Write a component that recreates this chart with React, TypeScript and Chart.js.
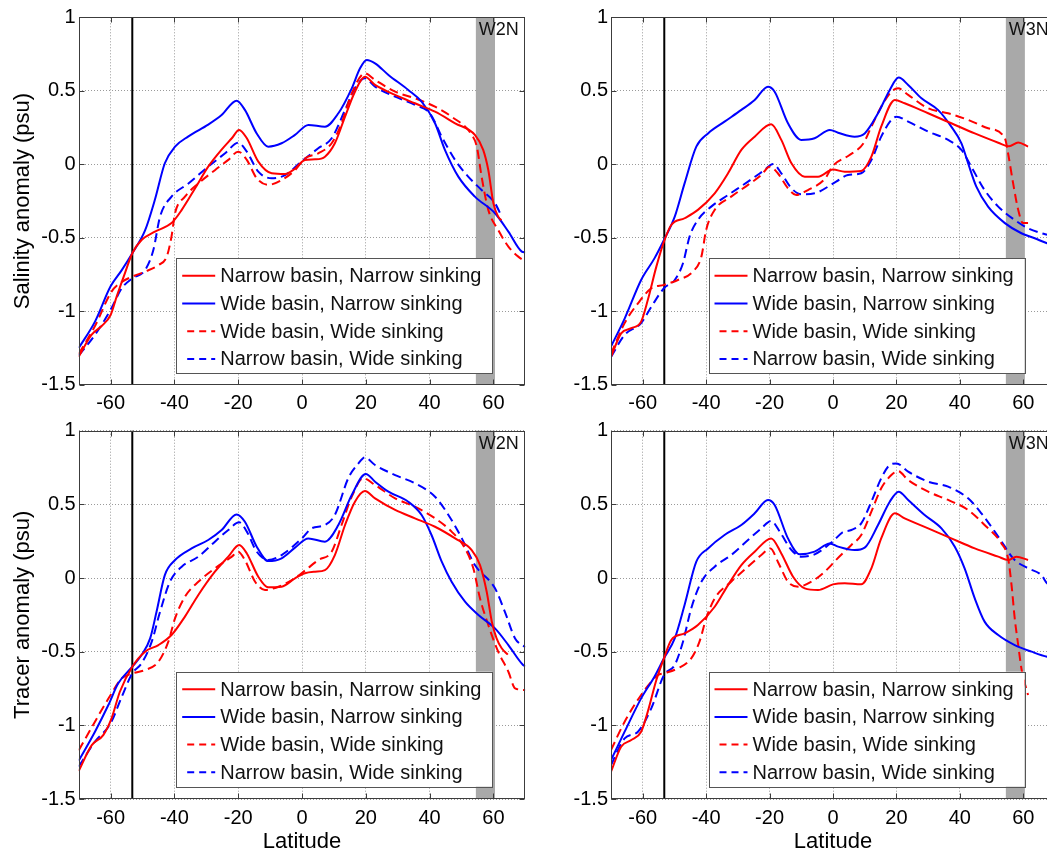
import React, { useEffect, useRef } from "react";
import { Chart, registerables } from "chart.js";

Chart.register(...registerables);

type Pt = [number, number];

// ---- axes ----
const latitudeTicks = [-60, -40, -20, 0, 20, 40, 60];
const anomalyTicks = [-1.5, -1, -0.5, 0, 0.5, 1];
const latitudeRange: Pt = [-70, 70];
const anomalyRange: Pt = [-1.5, 1];

// ---- experiments (legend order) ----
const experimentNames = [
  "Narrow basin, Narrow sinking",
  "Wide basin, Narrow sinking",
  "Wide basin, Wide sinking",
  "Narrow basin, Wide sinking",
];
const experimentColors = ["#ff0000", "#0000ff", "#ff0000", "#0000ff"];
const experimentDashed = [false, false, true, true];

// ---- reference marks ----
const southernBoundaryLat = -53.2;
const sinkingBandW2N: Pt = [54.5, 60.5];
const sinkingBandW3N: Pt = [54.5, 60.5];

// ---- salinity anomaly, W2N forcing ----
const salW2N_nbns: Pt[] = [
  [-70, -1.31], [-66, -1.16], [-62.8, -1.1], [-60, -1.025], [-58.1, -0.9], [-55.5, -0.74],
  [-53.2, -0.605], [-50.3, -0.515], [-46.1, -0.458], [-40.9, -0.4], [-37.7, -0.31], [-33.5, -0.163],
  [-29.4, -0.016], [-25.2, 0.1], [-22, 0.177], [-19.7, 0.234], [-17.3, 0.177], [-13.7, 0.018],
  [-9.5, -0.061], [-5.3, -0.066], [-2.2, -0.03], [0.9, 0.03], [4.1, 0.034], [7.2, 0.052],
  [10.3, 0.143], [13.5, 0.324], [16.6, 0.494], [19.7, 0.596], [22.9, 0.54], [29.2, 0.472],
  [35.4, 0.415], [41.7, 0.358], [48, 0.279], [54.2, 0.2], [56.8, 0.098], [58.4, -0.039],
  [60, -0.265], [61.5, -0.356], [62.5, -0.38],
];
const salW2N_wbns: Pt[] = [
  [-70, -1.25], [-64.9, -1.07], [-60, -0.83], [-56.5, -0.72], [-53.2, -0.605], [-49.2, -0.45],
  [-46.1, -0.24], [-43, 0.007], [-39.8, 0.12], [-35.6, 0.19], [-29.4, 0.27], [-25.2, 0.335],
  [-20.5, 0.433], [-17.9, 0.37], [-14.2, 0.21], [-10.6, 0.12], [-6.4, 0.143], [-2.2, 0.2],
  [2, 0.268], [7.2, 0.256], [11.4, 0.347], [15.6, 0.517], [18.2, 0.653], [20.3, 0.71],
  [22.9, 0.687], [27.1, 0.608], [33.3, 0.506], [37.5, 0.426], [41.7, 0.279], [44.8, 0.098],
  [49, -0.084], [54.2, -0.22], [60.5, -0.333], [64.7, -0.458], [68.9, -0.594], [70, -0.6],
];
const salW2N_wbws: Pt[] = [
  [-70, -1.29], [-64.9, -1.1], [-59.7, -0.866], [-56.5, -0.8], [-53.2, -0.764], [-49.2, -0.73],
  [-45, -0.685], [-42.4, -0.628], [-40.9, -0.49], [-39.8, -0.333], [-36.7, -0.22], [-32.5, -0.13],
  [-27.3, -0.04], [-23.1, 0.03], [-20, 0.086], [-17.3, 0.03], [-14.2, -0.095], [-10.6, -0.14],
  [-6.4, -0.107], [-2.2, -0.04], [0.9, 0.04], [5.1, 0.075], [9.3, 0.143], [12.4, 0.279],
  [15.6, 0.483], [19.7, 0.619], [22.9, 0.574], [29.2, 0.494], [35.4, 0.449], [41.7, 0.392],
  [46.9, 0.324], [53.2, 0.2], [54.8, 0.12], [56.3, -0.084], [58.4, -0.31], [61.5, -0.447],
  [64.7, -0.56], [67.8, -0.628], [70, -0.66],
];
const salW2N_nbws: Pt[] = [
  [-70, -1.3], [-64.9, -1.16], [-60, -0.99], [-56.5, -0.843], [-53.2, -0.776], [-49.2, -0.72],
  [-46.6, -0.583], [-44.5, -0.356], [-40.9, -0.22], [-35.6, -0.13], [-29.4, -0.016], [-24.1, 0.075],
  [-20, 0.147], [-17.3, 0.086], [-13.7, -0.05], [-9.5, -0.095], [-5.3, -0.073], [-0.1, 0.02],
  [5.1, 0.109], [9.3, 0.177], [13.5, 0.37], [16.6, 0.517], [19.7, 0.585], [22.9, 0.528],
  [29.2, 0.46], [35.4, 0.404], [40.1, 0.347], [43.8, 0.188], [48, 0.029], [52.1, -0.084],
  [56.3, -0.175], [60.5, -0.265], [62.6, -0.356],
];

// ---- salinity anomaly, W3N forcing ----
const salW3N_nbns: Pt[] = [
  [-70, -1.31], [-66.8, -1.15], [-63.6, -1.115], [-60.5, -1.07], [-58.4, -0.923], [-55.7, -0.696],
  [-53.3, -0.526], [-51, -0.413], [-46.8, -0.367], [-42.6, -0.31], [-37.3, -0.197], [-33.1, -0.061],
  [-28.9, 0.098], [-24.7, 0.188], [-19.5, 0.272], [-16.3, 0.166], [-13.1, 0.007], [-8.9, -0.084],
  [-4.7, -0.084], [0, -0.036], [3.7, -0.05], [8.9, -0.045], [12.1, 0.052], [15.2, 0.256],
  [19.5, 0.438], [22.6, 0.415], [30, 0.347], [37.3, 0.279], [44.7, 0.21], [52.1, 0.147],
  [55.5, 0.122], [58.4, 0.148], [61.5, 0.12],
];
const salW3N_wbns: Pt[] = [
  [-70, -1.24], [-65.7, -1.05], [-60.5, -0.787], [-56.3, -0.64], [-53.3, -0.515], [-49.9, -0.356],
  [-46.8, -0.13], [-43.1, 0.12], [-39.4, 0.21], [-34.2, 0.29], [-28.9, 0.37], [-24.7, 0.438],
  [-20.5, 0.528], [-18.4, 0.494], [-14.2, 0.279], [-10, 0.166], [-5.8, 0.177], [-1, 0.234],
  [1.6, 0.215], [6.8, 0.188], [10, 0.21], [14.2, 0.347], [17.9, 0.506], [20.7, 0.59],
  [23.7, 0.54], [27.9, 0.449], [33.1, 0.37], [37.3, 0.256], [40.5, 0.143], [42.6, 0.007],
  [45.2, -0.152], [48.9, -0.288], [54.2, -0.4], [59.4, -0.469], [63.6, -0.503], [67.5, -0.537],
  [70, -0.55],
];
const salW3N_wbws: Pt[] = [
  [-70, -1.29], [-65.7, -1.08], [-61.5, -0.946], [-57.3, -0.843], [-53.3, -0.82], [-48.9, -0.787],
  [-44.2, -0.73], [-41.5, -0.628], [-40, -0.447], [-37.3, -0.31], [-32.1, -0.22], [-26.8, -0.14],
  [-22.6, -0.073], [-20, -0.016], [-17.4, -0.061], [-14.2, -0.163], [-11.6, -0.209], [-7.9, -0.175],
  [-2.6, -0.1], [0, -0.01], [5, 0.06], [9.5, 0.14], [12.1, 0.256], [15.2, 0.392],
  [18.4, 0.494], [20.5, 0.517], [23.7, 0.472], [30, 0.381], [36.3, 0.347], [42.6, 0.302],
  [48.9, 0.245], [54.2, 0.177], [55.2, 0.075], [56.8, -0.13], [58.4, -0.31], [59.9, -0.4],
  [61.5, -0.4],
];
const salW3N_nbws: Pt[] = [
  [-70, -1.31], [-65.7, -1.16], [-60.5, -1.08], [-57.3, -0.97], [-53.3, -0.843], [-49.9, -0.787],
  [-47.3, -0.673], [-45.2, -0.49], [-42.6, -0.379], [-38.4, -0.288], [-33.1, -0.209], [-26.8, -0.118],
  [-21.6, -0.039], [-18.9, 0.002], [-16.3, -0.061], [-13.1, -0.163], [-10, -0.204], [-5.8, -0.197],
  [1, -0.118], [4.7, -0.073], [8.9, -0.061], [12.1, 0.029], [15.2, 0.188], [18.4, 0.302],
  [20, 0.324], [23.7, 0.29], [30, 0.222], [36.3, 0.166], [40.5, 0.098], [43.6, -0.016],
  [47.8, -0.175], [52.1, -0.288], [57.3, -0.379], [61.5, -0.435], [65.7, -0.469], [67.5, -0.48],
];

// ---- tracer anomaly, W2N forcing ----
const trcW2N_nbns: Pt[] = [
  [-70, -1.31], [-65.9, -1.134], [-62.3, -1.066], [-59.7, -0.953], [-57.1, -0.772], [-53.2, -0.602],
  [-49.2, -0.5], [-45, -0.455], [-40.9, -0.387], [-36.7, -0.262], [-32.5, -0.115], [-27.3, 0.043],
  [-23.1, 0.145], [-19.7, 0.224], [-17.3, 0.167], [-13.7, 0.009], [-10.6, -0.063], [-6.4, -0.059],
  [-2.2, -0.002], [0.9, 0.032], [4.1, 0.043], [7.2, 0.054], [10.3, 0.156], [13.5, 0.36],
  [16.6, 0.518], [19.7, 0.59], [22.9, 0.541], [29.2, 0.462], [35.4, 0.405], [41.7, 0.348],
  [48, 0.269], [53.2, 0.19], [55.8, 0.088], [57.9, -0.093], [59.5, -0.296], [61, -0.41],
  [62.6, -0.477], [64.5, -0.52],
];
const trcW2N_wbns: Pt[] = [
  [-70, -1.24], [-64.9, -1.043], [-60.7, -0.862], [-57.6, -0.715], [-53.2, -0.602], [-50.3, -0.523],
  [-47.6, -0.41], [-45.6, -0.229], [-43, 0.02], [-39.8, 0.122], [-34.6, 0.201], [-29.4, 0.258],
  [-25.2, 0.326], [-20.5, 0.432], [-17.9, 0.382], [-14.2, 0.213], [-10.6, 0.115], [-6.4, 0.134],
  [-2.2, 0.206], [2, 0.269], [7.2, 0.247], [11.4, 0.36], [15.6, 0.563], [20, 0.706],
  [22.9, 0.654], [27.1, 0.586], [33.3, 0.518], [37.5, 0.428], [40.6, 0.292], [43.8, 0.111],
  [46.9, -0.025], [51.1, -0.161], [55.3, -0.251], [60.5, -0.342], [64.7, -0.455], [69.3, -0.59],
  [70, -0.6],
];
const trcW2N_wbws: Pt[] = [
  [-70, -1.17], [-64.9, -0.975], [-60, -0.794], [-56.5, -0.681], [-53.2, -0.647], [-49.2, -0.625],
  [-45, -0.568], [-41.9, -0.432], [-39.8, -0.274], [-36.7, -0.127], [-32.5, -0.025], [-27.3, 0.066],
  [-22, 0.145], [-20, 0.179], [-17.9, 0.122], [-14.7, -0.025], [-11.6, -0.081], [-7.4, -0.059],
  [-3.2, -0.014], [0.6, 0.045], [5.1, 0.122], [9.3, 0.179], [12.4, 0.36], [15.6, 0.552],
  [19.2, 0.677], [22.9, 0.631], [29.2, 0.541], [35.4, 0.484], [41.7, 0.405], [46.9, 0.315],
  [51.1, 0.201], [53.7, 0.066], [55.8, -0.138], [58.4, -0.319], [61.5, -0.5], [64.7, -0.636],
  [66.8, -0.749], [70, -0.76],
];
const trcW2N_nbws: Pt[] = [
  [-70, -1.28], [-64.9, -1.111], [-60, -0.987], [-56.5, -0.806], [-53.2, -0.647], [-50.3, -0.579],
  [-47.1, -0.432], [-44.5, -0.229], [-41.4, -0.025], [-37.7, 0.077], [-32.5, 0.145], [-27.3, 0.247],
  [-23.1, 0.326], [-19.7, 0.378], [-17.3, 0.315], [-14.2, 0.179], [-10.6, 0.122], [-6.4, 0.156],
  [0, 0.27], [3, 0.337], [7.2, 0.36], [10.3, 0.428], [14.5, 0.677], [17.7, 0.778],
  [19.7, 0.819], [22.9, 0.767], [29.2, 0.699], [35.4, 0.643], [41.7, 0.552], [45.9, 0.428],
  [50.1, 0.269], [54.2, 0.088], [60.5, -0.07], [63.6, -0.229], [66.8, -0.41], [70, -0.47],
];

// ---- tracer anomaly, W3N forcing ----
const trcW3N_nbns: Pt[] = [
  [-70, -1.315], [-66.8, -1.145], [-63.6, -1.1], [-60.5, -1.043], [-58.4, -0.907], [-55.7, -0.692],
  [-53.3, -0.545], [-51, -0.421], [-46.8, -0.376], [-42.6, -0.319], [-37.3, -0.195], [-33.1, -0.048],
  [-28.9, 0.088], [-24.7, 0.179], [-19.5, 0.269], [-16.3, 0.167], [-12.6, 0.009], [-8.9, -0.07],
  [-4.7, -0.081], [0, -0.043], [3.7, -0.036], [8.9, -0.043], [12.1, 0.066], [15.2, 0.269],
  [19.5, 0.439], [22.6, 0.405], [30, 0.337], [37.3, 0.269], [44.7, 0.201], [52.1, 0.145],
  [55.2, 0.122], [57.8, 0.145], [61.5, 0.122],
];
const trcW3N_wbns: Pt[] = [
  [-70, -1.236], [-65.7, -1.043], [-60.5, -0.817], [-56.3, -0.67], [-53.3, -0.545], [-49.9, -0.41],
  [-46.8, -0.183], [-43.1, 0.111], [-39.4, 0.201], [-34.2, 0.292], [-28.9, 0.36], [-24.7, 0.439],
  [-20.5, 0.53], [-18.4, 0.496], [-14.2, 0.269], [-10.5, 0.161], [-5.8, 0.179], [-1, 0.235],
  [1.6, 0.213], [6.8, 0.19], [10, 0.206], [14.2, 0.36], [17.9, 0.518], [20.7, 0.586],
  [23.7, 0.53], [28.9, 0.428], [34.2, 0.337], [38.4, 0.213], [41.5, 0.066], [44.7, -0.138],
  [47.8, -0.296], [52.1, -0.387], [57.3, -0.455], [62.6, -0.5], [67.5, -0.534], [70, -0.54],
];
const trcW3N_wbws: Pt[] = [
  [-70, -1.168], [-65.7, -0.975], [-60.5, -0.794], [-57.3, -0.704], [-55.2, -0.659], [-53.3, -0.647],
  [-48.9, -0.613], [-44.7, -0.545], [-42.1, -0.432], [-40, -0.274], [-37.3, -0.138], [-32.1, -0.025],
  [-26.8, 0.077], [-22.6, 0.156], [-19.7, 0.201], [-17.4, 0.111], [-14.2, -0.025], [-11, -0.059],
  [-6.8, -0.025], [-2.6, 0.043], [1.3, 0.13], [5.8, 0.224], [8.9, 0.292], [12.1, 0.45],
  [15.2, 0.609], [18.4, 0.699], [20.5, 0.726], [23.7, 0.665], [30, 0.586], [36.3, 0.53],
  [42.6, 0.462], [47.8, 0.36], [53.1, 0.235], [55.2, 0.134], [56.3, -0.048], [57.3, -0.274],
  [58.4, -0.455], [59.4, -0.613], [61.5, -0.794],
];
const trcW3N_nbws: Pt[] = [
  [-70, -1.27], [-65.7, -1.088], [-61.5, -1.043], [-57.3, -0.885], [-53.3, -0.659], [-49.9, -0.59],
  [-47.3, -0.432], [-44.7, -0.206], [-41.5, -0.025], [-37.3, 0.077], [-32.1, 0.156], [-26.8, 0.258],
  [-22.6, 0.337], [-19.5, 0.387], [-16.8, 0.315], [-13.1, 0.19], [-10, 0.145], [-5.8, 0.161],
  [0, 0.25], [3, 0.31], [5.8, 0.326], [8.9, 0.371], [12.1, 0.518], [15.2, 0.677],
  [17.9, 0.767], [20, 0.778], [23.7, 0.722], [30, 0.654], [36.3, 0.62], [42.6, 0.541],
  [46.8, 0.439], [51, 0.315], [54.2, 0.213], [55.2, 0.179], [57.3, 0.122], [61.5, 0.066],
  [65.7, 0.02], [67.5, -0.036], [70, -0.06],
];

// ---- styling ----
const FONT = "'Liberation Sans', Arial, Helvetica, sans-serif";
const GRID_COLOR = "#9a9a9a";
const FRAME_COLOR = "#3c3c3c";
const BAND_COLOR = "#a9a9a9";

interface Rect { x: number; y: number; w: number; h: number }
interface PlotBox { l: number; t: number; r: number; b: number }
interface PanelSpec {
  key: string;
  canvas: Rect;
  plot: PlotBox;
  yTitle: string | null;
  xTitle: string | null;
  tag: string;
  band: Pt;
  series: Pt[][];
}

const panels: PanelSpec[] = [
  {
    key: "sal-w2n",
    canvas: { x: 0, y: 0, w: 531, h: 425 },
    plot: { l: 78.7, t: 17.3, r: 525.3, b: 384.8 },
    yTitle: "Salinity anomaly (psu)",
    xTitle: null,
    tag: "W2N",
    band: sinkingBandW2N,
    series: [salW2N_nbns, salW2N_wbns, salW2N_wbws, salW2N_nbws],
  },
  {
    key: "sal-w3n",
    canvas: { x: 531, y: 0, w: 530, h: 425 },
    plot: { l: 611, t: 17.3, r: 1055, b: 384.8 },
    yTitle: null,
    xTitle: null,
    tag: "W3N",
    band: sinkingBandW3N,
    series: [salW3N_nbns, salW3N_wbns, salW3N_wbws, salW3N_nbws],
  },
  {
    key: "trc-w2n",
    canvas: { x: 0, y: 408, w: 531, h: 445 },
    plot: { l: 78.7, t: 430.7, r: 525.3, b: 799 },
    yTitle: "Tracer anomaly (psu)",
    xTitle: "Latitude",
    tag: "W2N",
    band: sinkingBandW2N,
    series: [trcW2N_nbns, trcW2N_wbns, trcW2N_wbws, trcW2N_nbws],
  },
  {
    key: "trc-w3n",
    canvas: { x: 531, y: 408, w: 530, h: 445 },
    plot: { l: 611, t: 430.7, r: 1055, b: 799 },
    yTitle: null,
    xTitle: "Latitude",
    tag: "W3N",
    band: sinkingBandW3N,
    series: [trcW3N_nbns, trcW3N_wbns, trcW3N_wbws, trcW3N_nbws],
  },
];

function buildConfig(p: PanelSpec): any {
  const datasets = p.series.map((pts, i) => ({
    label: experimentNames[i],
    data: pts.map(([x, y]) => ({ x, y })),
    borderColor: experimentColors[i],
    backgroundColor: experimentColors[i],
    borderWidth: 2,
    borderDash: experimentDashed[i] ? [9, 5] : [],
    pointRadius: 0,
    fill: false,
    cubicInterpolationMode: "monotone",
    tension: 0.4,
  }));

  const decor = {
    id: "panelDecor",
    beforeDatasetsDraw(chart: any) {
      const { ctx, chartArea: a, scales } = chart;
      const xs = scales.x;
      ctx.save();
      // sinking region band
      const b0 = xs.getPixelForValue(p.band[0]);
      const b1 = xs.getPixelForValue(p.band[1]);
      ctx.fillStyle = BAND_COLOR;
      ctx.fillRect(b0, a.top, b1 - b0, a.bottom - a.top);
      // southern boundary
      const sx = xs.getPixelForValue(southernBoundaryLat);
      ctx.strokeStyle = "#000";
      ctx.lineWidth = 2;
      ctx.beginPath();
      ctx.moveTo(sx, a.top);
      ctx.lineTo(sx, a.bottom);
      ctx.stroke();
      ctx.restore();
    },
    afterDatasetsDraw(chart: any) {
      const { ctx, chartArea: a, scales } = chart;
      const xs = scales.x;
      const ys = scales.y;
      ctx.save();

      // forcing tag inside the band
      ctx.fillStyle = "#111";
      ctx.font = `18px ${FONT}`;
      ctx.textBaseline = "top";
      ctx.textAlign = "left";
      ctx.fillText(p.tag, xs.getPixelForValue(p.band[0]) + 3, a.top + 4);

      // legend box
      const lx = a.left + 97.5;
      const ly = a.top + 241;
      const lw = 316;
      const lh = 115;
      ctx.fillStyle = "#fff";
      ctx.fillRect(lx, ly, lw, lh);
      ctx.strokeStyle = "#555";
      ctx.lineWidth = 1;
      ctx.strokeRect(Math.round(lx) + 0.5, Math.round(ly) + 0.5, lw, lh);
      ctx.font = `20px ${FONT}`;
      ctx.textBaseline = "middle";
      chart.data.datasets.forEach((ds: any, i: number) => {
        const ry = ly + 17.5 + 27.7 * i;
        ctx.strokeStyle = ds.borderColor;
        ctx.lineWidth = 2;
        const dashed = ds.borderDash && ds.borderDash.length > 0;
        ctx.setLineDash(dashed ? [7, 5] : []);
        ctx.beginPath();
        ctx.moveTo(lx + (dashed ? 11 : 6), ry);
        ctx.lineTo(lx + 39, ry);
        ctx.stroke();
        ctx.setLineDash([]);
        ctx.fillStyle = "#111";
        ctx.fillText(ds.label, lx + 44, ry + 1);
      });

      // axes frame with inward tick marks
      ctx.strokeStyle = FRAME_COLOR;
      ctx.lineWidth = 1;
      const L = Math.round(a.left) + 0.5;
      const T = Math.round(a.top) + 0.5;
      const R = Math.round(a.right) - 0.5;
      const B = Math.round(a.bottom) - 0.5;
      ctx.strokeRect(L, T, R - L, B - T);
      ctx.beginPath();
      latitudeTicks.forEach((v) => {
        const px = Math.round(xs.getPixelForValue(v)) + 0.5;
        ctx.moveTo(px, B);
        ctx.lineTo(px, B - 5);
        ctx.moveTo(px, T);
        ctx.lineTo(px, T + 5);
      });
      anomalyTicks.forEach((v) => {
        const py = Math.round(ys.getPixelForValue(v)) + 0.5;
        ctx.moveTo(L, py);
        ctx.lineTo(L + 5, py);
        ctx.moveTo(R, py);
        ctx.lineTo(R - 5, py);
      });
      ctx.stroke();
      ctx.restore();
    },
  };

  const { canvas: c, plot } = p;
  return {
    type: "line",
    data: { datasets },
    options: {
      animation: false,
      responsive: false,
      maintainAspectRatio: false,
      devicePixelRatio: 1,
      events: [],
      layout: {
        padding: { left: 0, top: plot.t - c.y, right: c.x + c.w - plot.r, bottom: 0 },
      },
      plugins: {
        legend: { display: false },
        tooltip: { enabled: false },
        title: { display: false },
      },
      scales: {
        x: {
          type: "linear",
          position: "bottom",
          min: latitudeRange[0],
          max: latitudeRange[1],
          afterBuildTicks: (s: any) => {
            s.ticks = latitudeTicks.map((value) => ({ value }));
          },
          afterFit: (s: any) => {
            s.height = c.y + c.h - plot.b;
          },
          ticks: {
            color: "#000",
            font: { family: FONT, size: 20 },
            padding: 7,
            maxRotation: 0,
            autoSkip: false,
            callback: (v: any) => String(v),
          },
          grid: { color: GRID_COLOR, lineWidth: 1, drawTicks: false },
          border: { display: false, dash: [1, 2] },
          title: {
            display: !!p.xTitle,
            text: p.xTitle || "",
            color: "#000",
            font: { family: FONT, size: 22, lineHeight: 1 },
            padding: 0,
          },
        },
        y: {
          type: "linear",
          position: "left",
          min: anomalyRange[0],
          max: anomalyRange[1],
          afterBuildTicks: (s: any) => {
            s.ticks = anomalyTicks.map((value) => ({ value }));
          },
          afterFit: (s: any) => {
            s.width = plot.l - c.x;
          },
          ticks: {
            color: "#000",
            font: { family: FONT, size: 20 },
            padding: 3,
            autoSkip: false,
            callback: (v: any) => String(v),
          },
          grid: { color: GRID_COLOR, lineWidth: 1, drawTicks: false },
          border: { display: false, dash: [1, 2] },
          title: {
            display: !!p.yTitle,
            text: p.yTitle || "",
            color: "#000",
            font: { family: FONT, size: 22, lineHeight: 1.2 },
            padding: { top: 10, bottom: 0 },
          },
        },
      },
    },
    plugins: [decor],
  };
}

function PanelChart({ spec }: { spec: PanelSpec }) {
  const ref = useRef<HTMLCanvasElement | null>(null);
  useEffect(() => {
    if (!ref.current) return;
    const chart = new Chart(ref.current, buildConfig(spec));
    return () => chart.destroy();
  }, [spec]);
  const { x, y, w, h } = spec.canvas;
  return (
    <canvas
      ref={ref}
      width={w}
      height={h}
      style={{ position: "absolute", left: x, top: y, width: w, height: h }}
    />
  );
}

export default function App() {
  return (
    <div
      style={{
        position: "fixed",
        left: 0,
        top: 0,
        width: 1047,
        height: 853,
        overflow: "hidden",
        background: "#fff",
      }}
    >
      {panels.map((p) => (
        <PanelChart key={p.key} spec={p} />
      ))}
    </div>
  );
}
